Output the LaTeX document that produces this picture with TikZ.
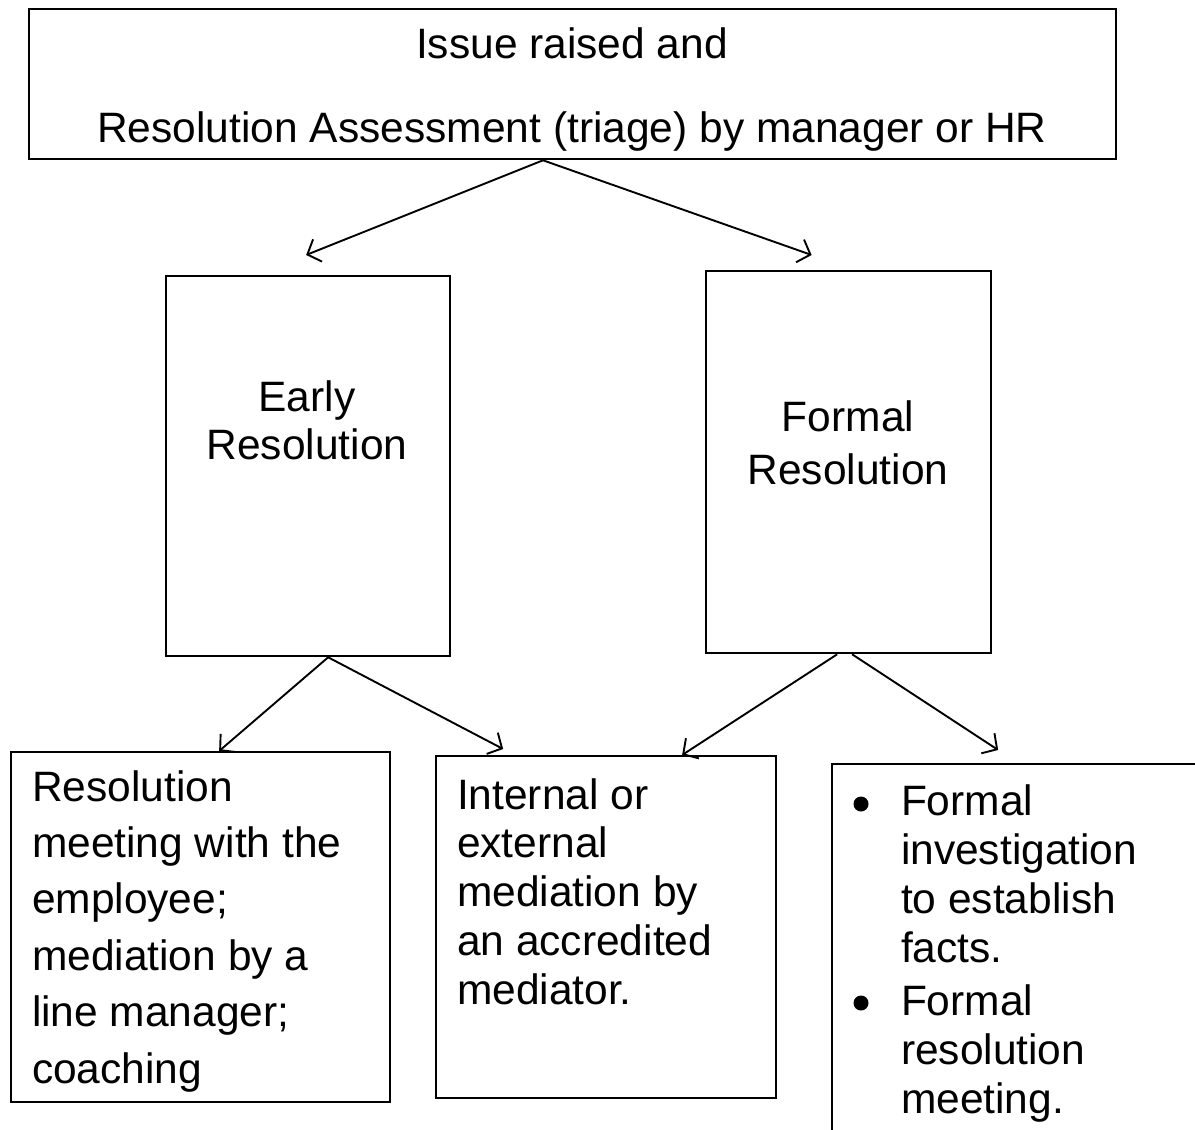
\documentclass[tikz,border=0pt]{standalone}
\usepackage{fontspec}
\setmainfont{Liberation Sans}
\usetikzlibrary{arrows.meta}
\tikzset{
  box/.style={draw, line width=2.3pt, inner sep=0pt, anchor=north west},
  txt/.style={inner sep=0pt, outer sep=0pt},
  bul/.style={circle, fill=black, inner sep=0pt, minimum size=15pt},
  arr/.style={draw, line width=1.9pt, -{Straight Barb[length=11pt,width=24pt,line width=1.9pt]}}
}
\newcommand{\fsz}[1]{\fontsize{42.5}{#1}\selectfont}
\begin{document}
\begin{tikzpicture}[x=1pt,y=-1pt]
\clip (0,0) rectangle (1195,1130);
\fill[white] (0,0) rectangle (1195,1130);
% boxes
\node[box, minimum width=1087, minimum height=150] (top) at (28,8) {};
\node[box, minimum width=284, minimum height=380] (early) at (165,275) {};
\node[box, minimum width=285, minimum height=382] (formal) at (705,270) {};
\node[box, minimum width=379, minimum height=350] (res) at (10,751) {};
\node[box, minimum width=340, minimum height=342] (med) at (435,755) {};
\node[box, minimum width=420, minimum height=420] (fres) at (831,763) {};
% texts (base anchor = baseline of the last line)
\node[txt, anchor=base, font=\fsz{84}] (toptxt) at (572,58) {Issue raised and};
\node[txt, anchor=base, font=\fsz{84}] (toptxt2) at (572,142) {Resolution Assessment (triage) by manager or HR};
\node[txt, anchor=base, align=center, font=\fsz{48}] (earlytxt) at (307,459) {Early\\Resolution};
\node[txt, anchor=base, align=center, font=\fsz{53}] (formaltxt) at (848,484) {Formal\\Resolution};
\node[txt, anchor=base west, align=left, font=\fsz{56.4}] (restxt) at (32,1083)
  {Resolution\\meeting with the\\employee;\\mediation by a\\line manager;\\coaching};
\node[txt, anchor=base west, align=left, font=\fsz{48.75}] (medtxt) at (457,1004)
  {Internal or\\external\\mediation by\\an accredited\\mediator.};
\node[txt, anchor=base west, align=left, font=\fsz{48.75}] (fres1) at (901,962)
  {Formal\\investigation\\to establish\\facts.};
\node[txt, anchor=base west, align=left, font=\fsz{48.75}] (fres2) at (901,1113)
  {Formal\\resolution\\meeting.};
\node[bul] (b1) at (861,804) {};
\node[bul] (b2) at (861,1003) {};
% connectors
\draw[arr] ([xshift=515pt]top.south west) -- ([xshift=-2pt,yshift=20pt]early.north);
\draw[arr] ([xshift=515pt]top.south west) -- ([xshift=-37pt,yshift=15pt]formal.north);
\draw[arr] ([xshift=20pt]early.south) -- ([xshift=18.5pt]res.north);
\draw[arr] ([xshift=20pt]early.south) -- ([xshift=-103pt,yshift=6pt]med.north);
\draw[arr] ([xshift=-11.5pt]formal.south) -- ([xshift=76pt]med.north);
\draw[arr] ([xshift=3.5pt]formal.south) -- ([xshift=-44pt,yshift=13pt]fres.north);
\end{tikzpicture}
\end{document}
